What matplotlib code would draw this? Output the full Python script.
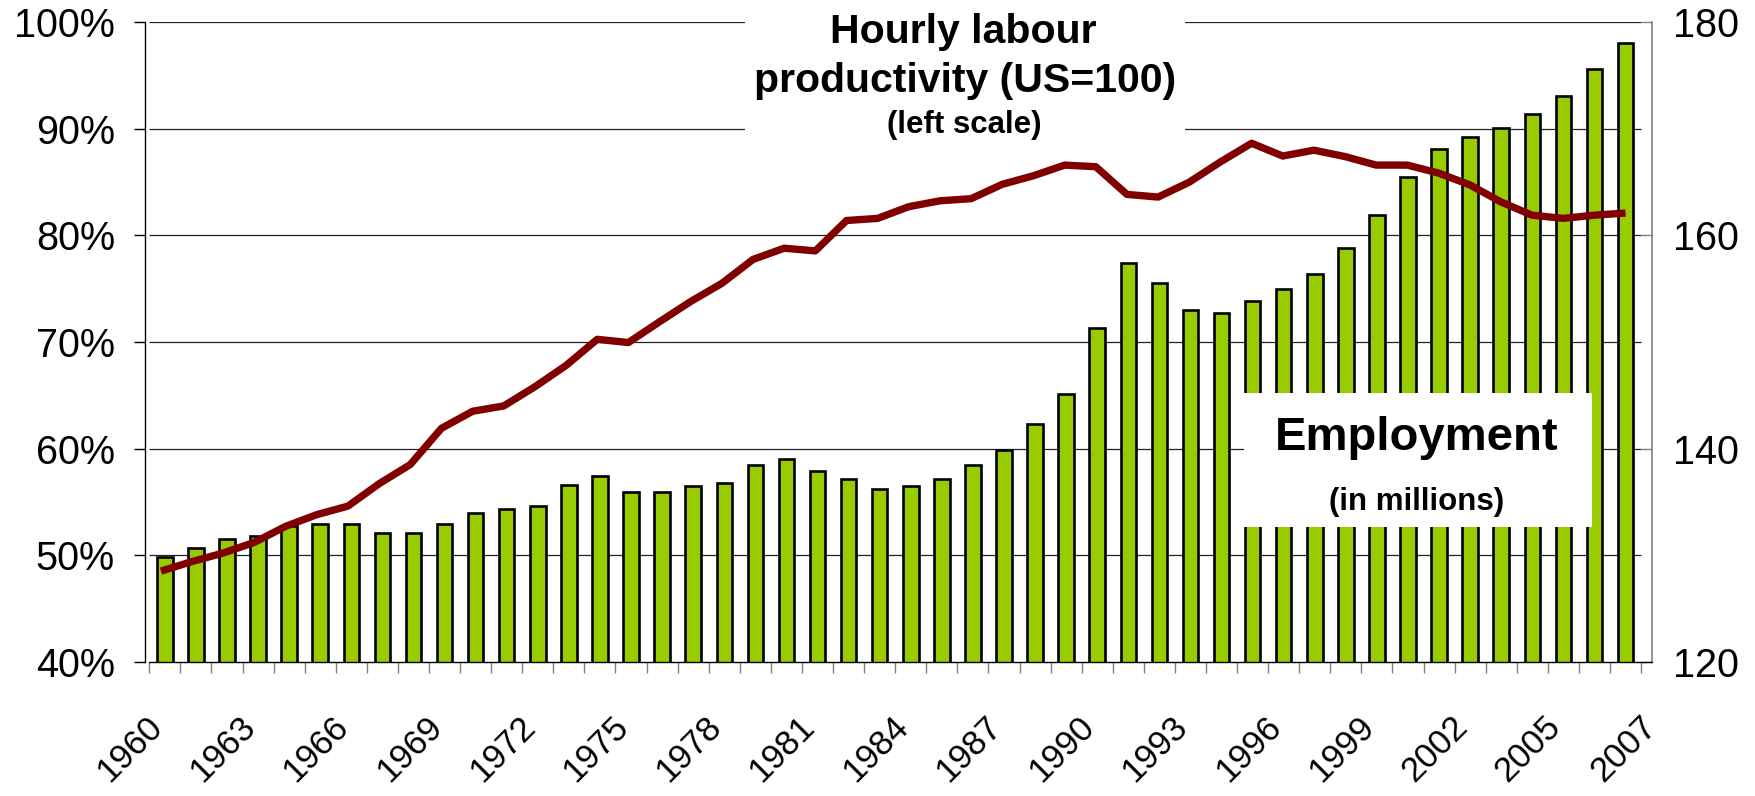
import matplotlib
matplotlib.use('Agg')
import matplotlib.pyplot as plt
from matplotlib.patches import Rectangle
from matplotlib.ticker import FixedLocator

# ---------------- data ----------------
years = list(range(1960, 2008))
employment = [129.85, 130.7, 131.5, 131.8, 132.7, 132.9, 132.9, 132.1, 132.1, 132.9,
              134.0, 134.3, 134.6, 136.55, 137.4, 135.95, 135.95, 136.5, 136.8, 138.45,
              139.0, 137.9, 137.1, 136.2, 136.5, 137.1, 138.45, 139.85, 142.35, 145.15,
              151.3, 157.45, 155.5, 153.0, 152.7, 153.85, 154.95, 156.35, 158.85, 161.9,
              165.5, 168.1, 169.2, 170.05, 171.4, 173.1, 175.6, 178.1]
productivity = [48.5, 49.4, 50.2, 51.2, 52.7, 53.8, 54.6, 56.7, 58.5, 61.9,
                63.5, 64.0, 65.8, 67.8, 70.25, 69.95, 71.9, 73.8, 75.5, 77.75,
                78.8, 78.55, 81.4, 81.6, 82.7, 83.25, 83.45, 84.8, 85.6, 86.6,
                86.45, 83.85, 83.6, 85.0, 86.9, 88.65, 87.45, 88.0, 87.4, 86.6,
                86.6, 85.85, 84.75, 83.15, 81.9, 81.6, 81.9, 82.1]
left_ticks = [40, 50, 60, 70, 80, 90, 100]
left_tick_labels = ['40%', '50%', '60%', '70%', '80%', '90%', '100%']
right_ticks = [120, 140, 160, 180]
right_tick_labels = ['120', '140', '160', '180']
grid_levels = [130, 140, 150, 160, 170, 180]
label_years = [1960, 1963, 1966, 1969, 1972, 1975, 1978, 1981, 1984, 1987,
               1990, 1993, 1996, 1999, 2002, 2005, 2007]

title_lines = ['Hourly labour', 'productivity (US=100)', '(left scale)']
emp_lines = ['Employment', '(in millions)']

BAR_GREEN = '#99CC00'
LINE_RED = '#800000'

plt.rcParams['font.family'] = ['Liberation Sans', 'DejaVu Sans']

W, H = 1756, 796
fig = plt.figure(figsize=(W / 100, H / 100), dpi=100)


def fx(px):
    return px / W


def fy(py):
    return 1 - py / H


ax_l, ax_r, ax_t, ax_b = 145.4, 1652.4, 22.3, 661.7
cat_w = 31.16
n = len(years)
x = list(range(n))
xmax = -0.5 + (ax_r - ax_l) / cat_w
rect = [fx(ax_l), fy(ax_b), (ax_r - ax_l) / W, (ax_b - ax_t) / H]
px2pt = 0.72

# ---- bars axis (right scale) ----
axb = fig.add_axes(rect)
axb.set_zorder(1)
axb.set_xlim(-0.5, xmax)
axb.set_ylim(120, 180)
axb.hlines(grid_levels, -0.5, n - 0.5, color='#222222', lw=0.9, zorder=1)
axb.bar(x, employment, width=0.5, color=BAR_GREEN, edgecolor='black', linewidth=1.9, zorder=2)

for s in ['top', 'left']:
    axb.spines[s].set_visible(False)
axb.spines['right'].set_color('#808080')
axb.spines['right'].set_linewidth(1.2)
axb.spines['bottom'].set_color('black')
axb.spines['bottom'].set_linewidth(1.0)
axb.spines['bottom'].set_bounds(-0.5, xmax)

axb.yaxis.tick_right()
axb.set_yticks(right_ticks)
axb.set_yticklabels(right_tick_labels)
axb.tick_params(axis='y', direction='in', length=11 * px2pt, width=1.0, color='#808080',
                labelsize=28.5, pad=14.5)

# category labels: rotated text whose upper end sits just left of the category centre
# (the last label sits at the right edge of its category, as in the reference)
shift_px = [-19.5] * (len(label_years) - 1) + [14.5]
label_pos = [years.index(y) + s / cat_w for y, s in zip(label_years, shift_px)]
axb.set_xticks(label_pos)
axb.set_xticklabels([str(y) for y in label_years], rotation=45,
                    rotation_mode='anchor', ha='right', va='top')
axb.xaxis.set_minor_locator(FixedLocator([i - 0.5 for i in range(n + 1)]))
axb.tick_params(axis='x', which='major', length=0, pad=35.0, labelsize=25)
axb.tick_params(axis='x', which='minor', direction='out', length=11 * px2pt, width=1.0,
                color='#808080')

# ---- line axis (left scale) ----
axl = fig.add_axes(rect)
axl.set_zorder(2)
axl.patch.set_visible(False)
axl.set_xlim(-0.5, xmax)
axl.set_ylim(40, 100)
axl.plot(x, productivity, color=LINE_RED, lw=5.3, solid_joinstyle='round',
         solid_capstyle='butt', zorder=3)
for s in ['top', 'right', 'bottom']:
    axl.spines[s].set_visible(False)
axl.spines['left'].set_color('black')
axl.spines['left'].set_linewidth(1.0)
axl.set_xticks([])
axl.set_yticks(left_ticks)
axl.set_yticklabels(left_tick_labels)
axl.tick_params(axis='y', direction='out', length=11 * px2pt, width=1.0, color='black',
                labelsize=28.5, pad=14)

# ---- annotation boxes ----
fig.add_artist(Rectangle((fx(745), fy(140)), (1185 - 745) / W, 140 / H,
                         transform=fig.transFigure, facecolor='white', edgecolor='none',
                         zorder=5))
fig.add_artist(Rectangle((fx(1244), fy(527)), (1592 - 1244) / W, (527 - 393) / H,
                         transform=fig.transFigure, facecolor='white', edgecolor='none',
                         zorder=5))

fig.text(fx(963), fy(43.3), title_lines[0], ha='center', va='baseline',
         fontsize=29.5, fontweight='bold', zorder=6)
fig.text(fx(965), fy(91.7), title_lines[1], ha='center', va='baseline',
         fontsize=29.5, fontweight='bold', zorder=6)
fig.text(fx(964), fy(133), title_lines[2], ha='center', va='baseline',
         fontsize=22.5, fontweight='bold', zorder=6)
fig.text(fx(1417), fy(450), emp_lines[0], ha='center', va='baseline',
         fontsize=34, fontweight='bold', zorder=6)
fig.text(fx(1417), fy(510), emp_lines[1], ha='center', va='baseline',
         fontsize=22.5, fontweight='bold', zorder=6)

fig.savefig('out.png', dpi=100)
